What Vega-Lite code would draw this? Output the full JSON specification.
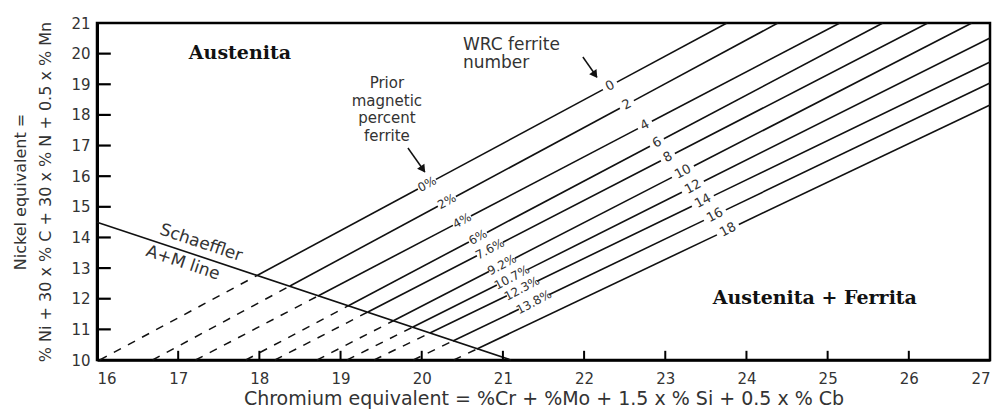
{
  "$schema": "https://vega.github.io/schema/vega-lite/v6.json",
  "width": 893,
  "height": 337,
  "autosize": "none",
  "padding": {"left": 97, "top": 23, "right": 5, "bottom": 57},
  "background": "#ffffff",
  "config": {
    "view": {"stroke": "#000000", "strokeWidth": 2.5},
    "text": {"font": "DejaVu Sans", "color": "#333333"}
  },
  "datasets": {
    "solid": [
      {"id": "S", "x": 16, "y": 14.5}, {"id": "S", "x": 21.1, "y": 10},
      {"id": "0a", "x": 17.983, "y": 12.775}, {"id": "0a", "x": 19.953, "y": 15.58},
      {"id": "0b", "x": 20.175, "y": 15.896}, {"id": "0b", "x": 22.232, "y": 18.826},
      {"id": "0c", "x": 22.404, "y": 19.07}, {"id": "0c", "x": 23.759, "y": 21},
      {"id": "2a", "x": 18.377, "y": 12.416}, {"id": "2a", "x": 20.199, "y": 15.018},
      {"id": "2b", "x": 20.421, "y": 15.335}, {"id": "2b", "x": 22.441, "y": 18.219},
      {"id": "2c", "x": 22.613, "y": 18.465}, {"id": "2c", "x": 24.387, "y": 21},
      {"id": "4a", "x": 18.722, "y": 12.09}, {"id": "4a", "x": 20.384, "y": 14.394},
      {"id": "4b", "x": 20.606, "y": 14.701}, {"id": "4b", "x": 22.663, "y": 17.552},
      {"id": "4c", "x": 22.835, "y": 17.791}, {"id": "4c", "x": 25.15, "y": 21},
      {"id": "6a", "x": 19.091, "y": 11.764}, {"id": "6a", "x": 20.581, "y": 13.853},
      {"id": "6b", "x": 20.803, "y": 14.164}, {"id": "6b", "x": 22.811, "y": 16.979},
      {"id": "6c", "x": 22.983, "y": 17.221}, {"id": "6c", "x": 25.68, "y": 21},
      {"id": "8a", "x": 19.337, "y": 11.568}, {"id": "8a", "x": 20.68, "y": 13.405},
      {"id": "8b", "x": 21.0, "y": 13.843}, {"id": "8b", "x": 22.946, "y": 16.505},
      {"id": "8c", "x": 23.118, "y": 16.74}, {"id": "8c", "x": 26.234, "y": 21},
      {"id": "10a", "x": 19.645, "y": 11.274}, {"id": "10a", "x": 20.828, "y": 12.888},
      {"id": "10b", "x": 21.148, "y": 13.324}, {"id": "10b", "x": 23.082, "y": 15.962},
      {"id": "10c", "x": 23.352, "y": 16.33}, {"id": "10c", "x": 26.776, "y": 21},
      {"id": "12a", "x": 19.892, "y": 11.078}, {"id": "12a", "x": 20.926, "y": 12.45},
      {"id": "12b", "x": 21.296, "y": 12.941}, {"id": "12b", "x": 23.205, "y": 15.474},
      {"id": "12c", "x": 23.475, "y": 15.833}, {"id": "12c", "x": 27, "y": 20.51},
      {"id": "14a", "x": 20.101, "y": 10.882}, {"id": "14a", "x": 21.049, "y": 12.097},
      {"id": "14b", "x": 21.419, "y": 12.572}, {"id": "14b", "x": 23.328, "y": 15.019},
      {"id": "14c", "x": 23.598, "y": 15.365}, {"id": "14c", "x": 27, "y": 19.727},
      {"id": "16a", "x": 20.384, "y": 10.621}, {"id": "16a", "x": 21.197, "y": 11.656},
      {"id": "16b", "x": 21.567, "y": 12.127}, {"id": "16b", "x": 23.476, "y": 14.557},
      {"id": "16c", "x": 23.746, "y": 14.901}, {"id": "16c", "x": 27, "y": 19.042},
      {"id": "18b", "x": 20.68, "y": 10.36}, {"id": "18b", "x": 23.636, "y": 14.085},
      {"id": "18c", "x": 23.906, "y": 14.425}, {"id": "18c", "x": 27, "y": 18.324}
    ],
    "dashed": [
      {"id": "d0", "x": 16.034, "y": 10}, {"id": "d0", "x": 17.983, "y": 12.775},
      {"id": "d2", "x": 16.685, "y": 10}, {"id": "d2", "x": 18.377, "y": 12.416},
      {"id": "d4", "x": 17.214, "y": 10}, {"id": "d4", "x": 18.722, "y": 12.09},
      {"id": "d6", "x": 17.833, "y": 10}, {"id": "d6", "x": 19.091, "y": 11.764},
      {"id": "d8", "x": 18.191, "y": 10}, {"id": "d8", "x": 19.337, "y": 11.568},
      {"id": "d10", "x": 18.711, "y": 10}, {"id": "d10", "x": 19.645, "y": 11.274},
      {"id": "d12", "x": 19.08, "y": 10}, {"id": "d12", "x": 19.892, "y": 11.078},
      {"id": "d14", "x": 19.413, "y": 10}, {"id": "d14", "x": 20.101, "y": 10.882},
      {"id": "d16", "x": 19.896, "y": 10}, {"id": "d16", "x": 20.384, "y": 10.621},
      {"id": "d18", "x": 20.394, "y": 10}, {"id": "d18", "x": 20.68, "y": 10.36}
    ],
    "yticks": [
      {"x": 16, "x2": 16.17, "y": 11}, {"x": 16, "x2": 16.17, "y": 12},
      {"x": 16, "x2": 16.17, "y": 13}, {"x": 16, "x2": 16.17, "y": 14},
      {"x": 16, "x2": 16.17, "y": 15}, {"x": 16, "x2": 16.17, "y": 16},
      {"x": 16, "x2": 16.17, "y": 17}, {"x": 16, "x2": 16.17, "y": 18},
      {"x": 16, "x2": 16.17, "y": 19}, {"x": 16, "x2": 16.17, "y": 20}
    ],
    "xticks": [
      {"x": 17, "y": 10, "y2": 10.3}, {"x": 18, "y": 10, "y2": 10.3},
      {"x": 19, "y": 10, "y2": 10.3}, {"x": 20, "y": 10, "y2": 10.3},
      {"x": 21, "y": 10, "y2": 10.3}, {"x": 22, "y": 10, "y2": 10.3},
      {"x": 23, "y": 10, "y2": 10.3}, {"x": 24, "y": 10, "y2": 10.3},
      {"x": 25, "y": 10, "y2": 10.3}, {"x": 26, "y": 10, "y2": 10.3}
    ],
    "fn": [
      {"t": "0", "x": 22.318, "y": 18.948},
      {"t": "2", "x": 22.527, "y": 18.342},
      {"t": "4", "x": 22.749, "y": 17.671},
      {"t": "6", "x": 22.897, "y": 17.1},
      {"t": "8", "x": 23.032, "y": 16.623},
      {"t": "10", "x": 23.217, "y": 16.146},
      {"t": "12", "x": 23.34, "y": 15.654},
      {"t": "14", "x": 23.463, "y": 15.192},
      {"t": "16", "x": 23.611, "y": 14.729},
      {"t": "18", "x": 23.771, "y": 14.255}
    ],
    "pct": [
      {"t": "0%", "x": 20.064, "y": 15.738},
      {"t": "2%", "x": 20.31, "y": 15.176},
      {"t": "4%", "x": 20.495, "y": 14.547},
      {"t": "6%", "x": 20.692, "y": 14.009},
      {"t": "7.6%", "x": 20.84, "y": 13.624},
      {"t": "9.2%", "x": 20.988, "y": 13.106},
      {"t": "10.7%", "x": 21.111, "y": 12.696},
      {"t": "12.3%", "x": 21.234, "y": 12.334},
      {"t": "13.8%", "x": 21.382, "y": 11.891}
    ],
    "region": [
      {"t": "Austenita", "x": 17.761, "y": 20.02},
      {"t": "Austenita + Ferrita", "x": 24.842, "y": 12.025}
    ],
    "noteLeft": [
      {"t": "WRC ferrite", "x": 20.507, "y": 20.282},
      {"t": "number", "x": 20.507, "y": 19.69}
    ],
    "noteCenter": [
      {"t": "Prior", "x": 19.571, "y": 19.042},
      {"t": "magnetic", "x": 19.571, "y": 18.454},
      {"t": "percent", "x": 19.571, "y": 17.9},
      {"t": "ferrite", "x": 19.571, "y": 17.312}
    ],
    "sch": [
      {"t": "Schaeffler", "x": 17.281, "y": 13.82},
      {"t": "A+M line", "x": 17.059, "y": 13.17}
    ],
    "arrows": [
      {"x": 21.985, "y": 19.89, "x2": 22.158, "y2": 19.238},
      {"x": 19.83, "y": 16.92, "x2": 20.039, "y2": 16.137}
    ],
    "heads": [
      {"x": 22.135, "y": 19.31},
      {"x": 20.015, "y": 16.22}
    ]
  },
  "encoding": {
    "x": {
      "field": "x", "type": "quantitative",
      "scale": {"domain": [16, 27], "nice": false, "zero": false},
      "axis": {
        "values": [16, 17, 18, 19, 20, 21, 22, 23, 24, 25, 26, 27],
        "grid": false,
        "domainColor": "#000000", "domainWidth": 2.5,
        "ticks": true, "tickSize": 0,
        "labelFont": "DejaVu Sans", "labelFontSize": 15, "labelColor": "#333333",
        "labelPadding": 11,
        "title": "Chromium equivalent = %Cr + %Mo + 1.5 x % Si + 0.5 x % Cb",
        "titleFont": "DejaVu Sans", "titleFontSize": 19, "titleFontWeight": "normal",
        "titleColor": "#333333", "titlePadding": 3
      }
    },
    "y": {
      "field": "y", "type": "quantitative",
      "scale": {"domain": [10, 21], "nice": false, "zero": false},
      "axis": {
        "values": [10, 11, 12, 13, 14, 15, 16, 17, 18, 19, 20, 21],
        "grid": false,
        "domainColor": "#000000", "domainWidth": 3,
        "ticks": true, "tickSize": 0,
        "labelFont": "DejaVu Sans", "labelFontSize": 15, "labelColor": "#333333",
        "labelPadding": 7,
        "title": ["Nickel equivalent =", "% Ni + 30 x % C + 30 x % N + 0.5 x % Mn"],
        "titleFont": "DejaVu Sans", "titleFontSize": 16, "titleFontWeight": "normal",
        "titleColor": "#333333", "titlePadding": 17, "titleLineHeight": 25
      }
    }
  },
  "layer": [
    {
      "data": {"name": "solid"},
      "mark": {"type": "line", "color": "#111111", "strokeWidth": 1.6},
      "encoding": {"detail": {"field": "id"}}
    },
    {
      "data": {"name": "dashed"},
      "mark": {"type": "line", "color": "#111111", "strokeWidth": 1.5, "strokeDash": [8, 8]},
      "encoding": {"detail": {"field": "id"}}
    },
    {
      "data": {"name": "yticks"},
      "mark": {"type": "rule", "color": "#000000", "strokeWidth": 2.2},
      "encoding": {"x2": {"field": "x2"}}
    },
    {
      "data": {"name": "xticks"},
      "mark": {"type": "rule", "color": "#000000", "strokeWidth": 2},
      "encoding": {"y2": {"field": "y2"}}
    },
    {
      "data": {"name": "fn"},
      "mark": {"type": "text", "fontSize": 13, "angle": 332, "align": "center", "baseline": "middle"},
      "encoding": {"text": {"field": "t"}}
    },
    {
      "data": {"name": "pct"},
      "mark": {"type": "text", "fontSize": 12, "angle": 332, "align": "center", "baseline": "middle"},
      "encoding": {"text": {"field": "t"}}
    },
    {
      "data": {"name": "region"},
      "mark": {"type": "text", "font": "DejaVu Serif", "fontWeight": "bold", "fontSize": 19, "color": "#111111", "align": "center", "baseline": "middle"},
      "encoding": {"text": {"field": "t"}}
    },
    {
      "data": {"name": "noteLeft"},
      "mark": {"type": "text", "fontSize": 17, "align": "left", "baseline": "middle"},
      "encoding": {"text": {"field": "t"}}
    },
    {
      "data": {"name": "noteCenter"},
      "mark": {"type": "text", "fontSize": 15, "align": "center", "baseline": "middle"},
      "encoding": {"text": {"field": "t"}}
    },
    {
      "data": {"name": "sch"},
      "mark": {"type": "text", "fontSize": 17, "angle": 18.5, "align": "center", "baseline": "middle"},
      "encoding": {"text": {"field": "t"}}
    },
    {
      "data": {"name": "arrows"},
      "mark": {"type": "rule", "color": "#111111", "strokeWidth": 1.5},
      "encoding": {"x2": {"field": "x2"}, "y2": {"field": "y2"}}
    },
    {
      "data": {"name": "heads"},
      "mark": {"type": "point", "shape": "triangle-down", "filled": true, "color": "#111111", "size": 80, "angle": 325, "opacity": 1},
      "encoding": {}
    }
  ]
}
